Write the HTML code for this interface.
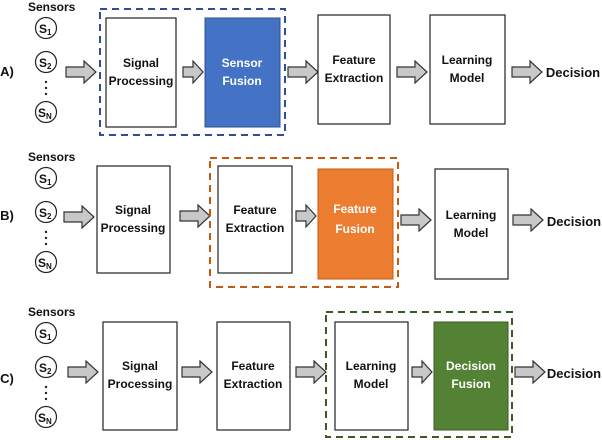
<!DOCTYPE html>
<html><head><style>body{margin:0;background:#fff}svg{display:block}text{font-family:"Liberation Sans",sans-serif;font-weight:bold;fill:#111}</style></head><body>
<svg width="602" height="440" viewBox="0 0 602 440" xmlns="http://www.w3.org/2000/svg">
<defs>
<g id="ar"><path d="M0,-5 H18 V-11 L30,0 L18,11 V5 H0 Z" fill="#c8c8c8" stroke="#333" stroke-width="1.2"/></g>
<g id="sa"><path d="M0,-5 H10 V-11 L20,0 L10,11 V5 H0 Z" fill="#c8c8c8" stroke="#333" stroke-width="1.2"/></g>
<g id="sens" text-anchor="start">
<text x="28" y="-11" font-size="12">Sensors</text>
<circle cx="46" cy="6" r="10.5" fill="#fff" stroke="#222" stroke-width="1.2"/><text x="39" y="11" font-size="12" font-weight="normal">S<tspan font-size="8" dy="2">1</tspan></text>
<circle cx="46" cy="40" r="10.5" fill="#fff" stroke="#222" stroke-width="1.2"/><text x="39" y="45" font-size="12" font-weight="normal">S<tspan font-size="8" dy="2">2</tspan></text>
<circle cx="46" cy="60" r="1.2" fill="#222"/><circle cx="46" cy="66" r="1.2" fill="#222"/><circle cx="46" cy="72" r="1.2" fill="#222"/>
<circle cx="46" cy="90" r="10.5" fill="#fff" stroke="#222" stroke-width="1.2"/><text x="38" y="95" font-size="12" font-weight="normal">S<tspan font-size="8" dy="2">N</tspan></text>
</g>
</defs>
<use href="#sens" x="0" y="22"/>
<use href="#sens" x="0" y="172"/>
<use href="#sens" x="0" y="327"/>
<g font-size="12" text-anchor="middle">
<!-- Row A -->
<text x="7" y="76" font-size="13">A)</text>
<use href="#ar" x="66" y="72"/>
<rect x="100" y="9" width="185" height="126" fill="none" stroke="#2f4f8f" stroke-width="2" stroke-dasharray="7,5"/>
<rect x="106" y="18" width="70" height="109" fill="#fff" stroke="#222" stroke-width="1.2"/>
<text x="141" y="67">Signal</text><text x="141" y="85">Processing</text>
<use href="#sa" x="183" y="72"/>
<rect x="205" y="18" width="75" height="109" fill="#4472c4" stroke="#2f528f" stroke-width="1"/>
<text x="242" y="67" style="fill:#fff">Sensor</text><text x="242" y="85" style="fill:#fff">Fusion</text>
<use href="#ar" x="288" y="72"/>
<rect x="318" y="15" width="72" height="109" fill="#fff" stroke="#222" stroke-width="1.2"/>
<text x="354" y="64">Feature</text><text x="354" y="82">Extraction</text>
<use href="#ar" x="397" y="72"/>
<rect x="430" y="15" width="75" height="109" fill="#fff" stroke="#222" stroke-width="1.2"/>
<text x="467" y="64">Learning</text><text x="467" y="82">Model</text>
<use href="#ar" x="512" y="72"/>
<text x="573" y="77" font-size="13">Decision</text>
<!-- Row B -->
<text x="7" y="220" font-size="13">B)</text>
<use href="#ar" x="64" y="217"/>
<rect x="97" y="166" width="73" height="107" fill="#fff" stroke="#222" stroke-width="1.2"/>
<text x="133" y="214">Signal</text><text x="133" y="232">Processing</text>
<use href="#ar" x="180" y="216"/>
<rect x="210" y="158" width="188" height="129" fill="none" stroke="#c55a11" stroke-width="2" stroke-dasharray="7,5"/>
<rect x="218" y="166" width="74" height="107" fill="#fff" stroke="#222" stroke-width="1.2"/>
<text x="255" y="214">Feature</text><text x="255" y="232">Extraction</text>
<use href="#sa" x="296" y="216"/>
<rect x="318" y="169" width="75" height="110" fill="#ed7d31" stroke="#c55a11" stroke-width="1"/>
<text x="355" y="213" style="fill:#fff">Feature</text><text x="355" y="233" style="fill:#fff">Fusion</text>
<use href="#ar" x="401" y="220"/>
<rect x="435" y="169" width="73" height="110" fill="#fff" stroke="#222" stroke-width="1.2"/>
<text x="471" y="219">Learning</text><text x="471" y="237">Model</text>
<use href="#ar" x="513" y="220"/>
<text x="574" y="226" font-size="13">Decision</text>
<!-- Row C -->
<text x="7" y="383" font-size="13">C)</text>
<use href="#ar" x="68" y="372"/>
<rect x="103" y="322" width="74" height="108" fill="#fff" stroke="#222" stroke-width="1.2"/>
<text x="140" y="370">Signal</text><text x="140" y="388">Processing</text>
<use href="#ar" x="182" y="372"/>
<rect x="217" y="322" width="73" height="108" fill="#fff" stroke="#222" stroke-width="1.2"/>
<text x="253" y="370">Feature</text><text x="253" y="388">Extraction</text>
<use href="#ar" x="296" y="372"/>
<rect x="326" y="312" width="186" height="125" fill="none" stroke="#3a5a22" stroke-width="2" stroke-dasharray="7,5"/>
<rect x="335" y="322" width="73" height="108" fill="#fff" stroke="#222" stroke-width="1.2"/>
<text x="371" y="370">Learning</text><text x="371" y="388">Model</text>
<use href="#sa" x="412" y="372"/>
<rect x="434" y="322" width="74" height="108" fill="#548235" stroke="#3a5a22" stroke-width="1"/>
<text x="471" y="370" style="fill:#fff">Decision</text><text x="471" y="388" style="fill:#fff">Fusion</text>
<use href="#ar" x="515" y="372"/>
<text x="574" y="378" font-size="13">Decision</text>
</g>
</svg>
</body></html>
